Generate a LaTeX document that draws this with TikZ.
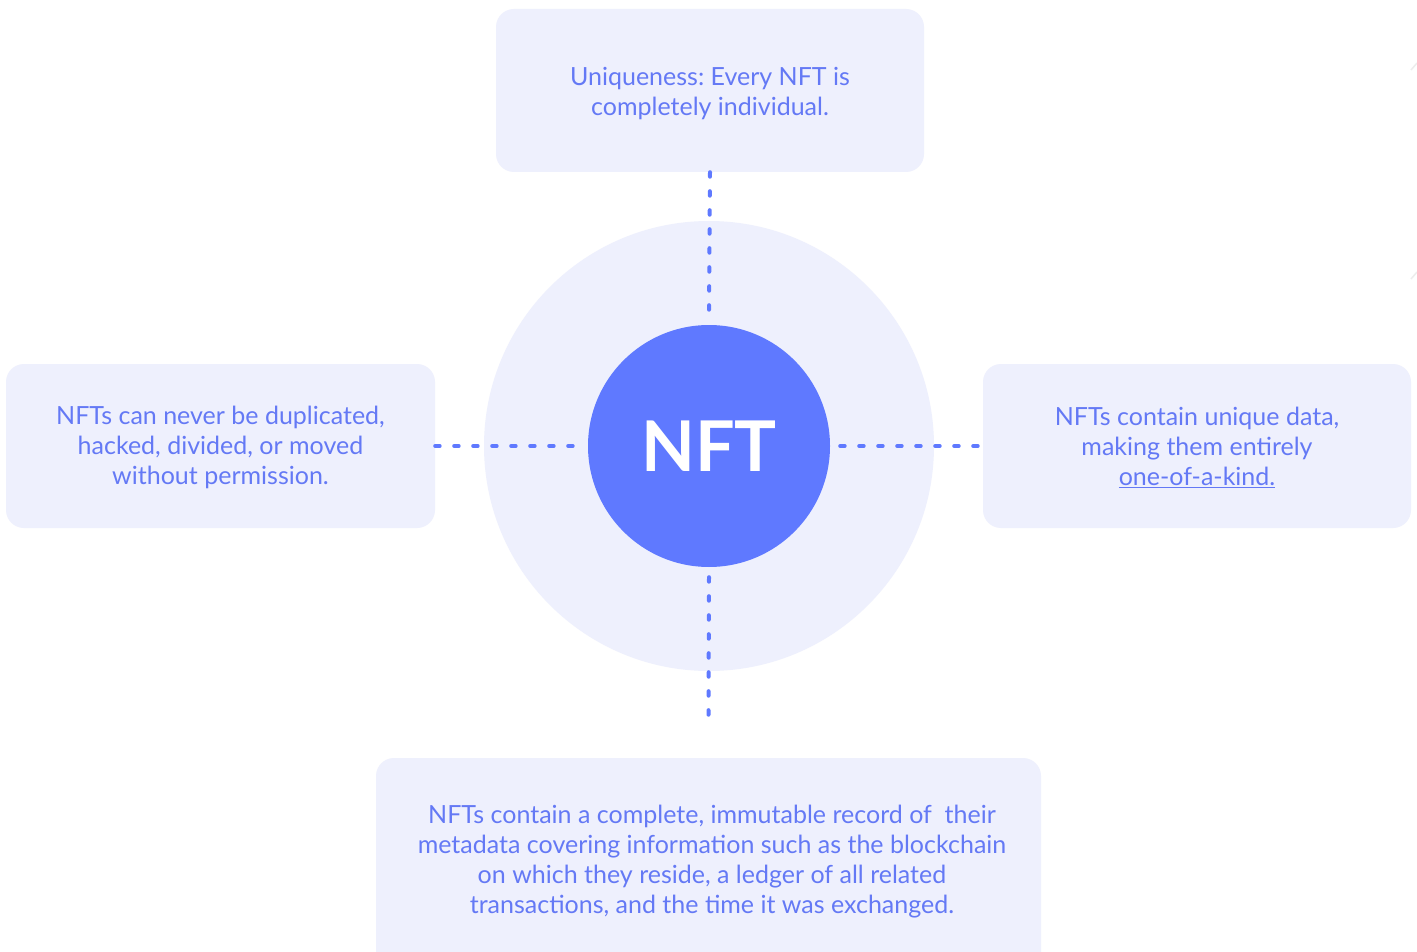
\documentclass[tikz,border=0pt]{standalone}
\usepackage{fontspec}
\setmainfont{Lato}
\frenchspacing
\definecolor{boxfill}{HTML}{EEF0FD}
\definecolor{ink}{HTML}{6479F5}
\definecolor{core}{HTML}{5F79FF}
\begin{document}
\begin{tikzpicture}[x=1pt,y=-1pt,
  infobox/.style={fill=boxfill, draw=none, rounded corners=18pt, inner sep=0pt},
  infotext/.style={text=ink, align=center, font=\fontsize{25}{30}\selectfont, inner sep=0pt},
  link/.style={draw=core, line width=4pt, line cap=round, dash pattern=on 4.5pt off 14.5pt}
]
\useasboundingbox (0,0) rectangle (1417,952);
\fill[white] (0,0) rectangle (1417,952);

% halo and core circle
\node[circle, fill=boxfill, minimum size=450pt, inner sep=0pt] (halo) at (709,446) {};
\node[circle, fill=core, minimum size=242pt, inner sep=0pt, text=white,
      font=\fontsize{70}{70}\selectfont\bfseries] (nft) at (709,446) {NFT};

% four info boxes
\node[infobox, minimum width=428pt, minimum height=163pt] (top) at (710,90.5) {};
\node[infotext] at ([yshift=-3pt]top.center) {Uniqueness: Every NFT is\\completely individual.};

\node[infobox, minimum width=429pt, minimum height=164pt] (left) at (220.5,446) {};
\node[infotext] at ([yshift=-1pt]left.center) {NFTs can never be duplicated,\\hacked, divided, or moved\\without permission.};

\node[infobox, minimum width=428pt, minimum height=164pt] (right) at (1197,446) {};
\node[infotext] (righttxt) at ([yshift=-1pt]right.center) {NFTs contain unique data,\\making them entirely\\\underline{one-of-a-kind.}};

\node[infobox, minimum width=665pt, minimum height=230pt] (bottom) at (708.5,873) {};
\node[infotext] (bottomtxt) at (712,862) {NFTs contain a complete, immutable record of\ \ their\\metadata covering information such as the blockchain\\on which they reside, a ledger of all related\\transactions, and the time it was exchanged.};

% dotted connectors
\draw[link] (top.south) -- ([yshift=10pt]nft.north);
\draw[link] ([yshift=-10pt]nft.south) -- ([yshift=40pt]bottom.north);
\draw[link] (left.east) -- ([xshift=-10pt]nft.west);
\draw[link] ([xshift=10pt]nft.east) -- (right.west);

% faint marks at the right edge
\draw[black!7, line width=1.5pt] (1411,70) -- (1417,63);
\draw[black!7, line width=1.5pt] (1411,279) -- (1417,272);
\end{tikzpicture}
\end{document}
